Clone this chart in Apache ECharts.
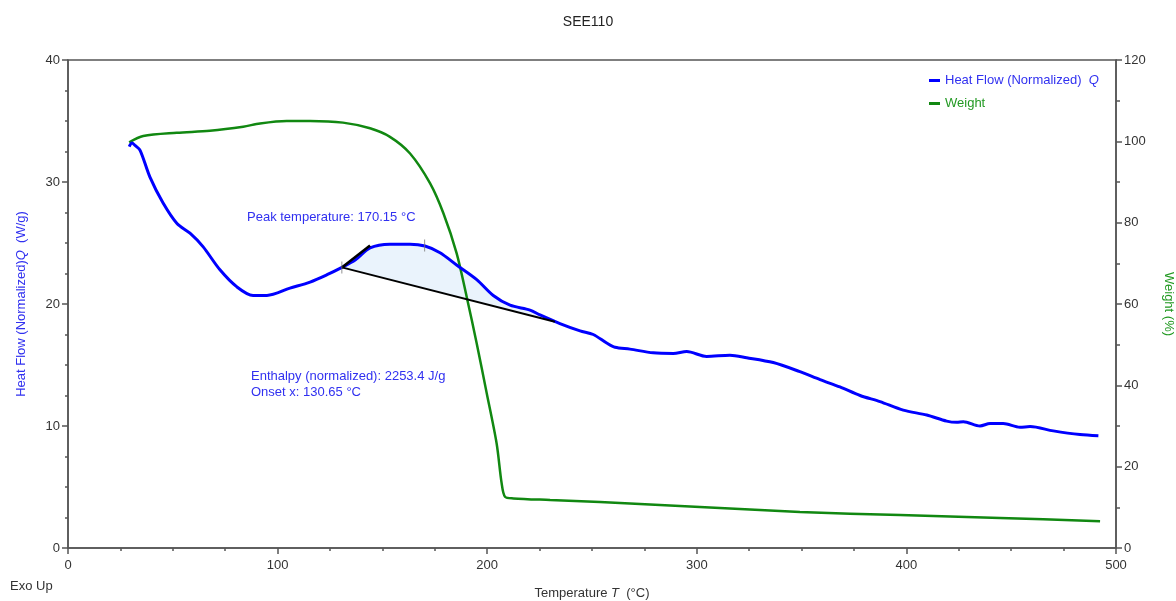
<!DOCTYPE html>
<html>
<head>
<meta charset="utf-8">
<script src="https://cdn.jsdelivr.net/npm/echarts@6/dist/echarts.min.js"></script>
<style>
  html, body { margin: 0; padding: 0; background: #fff; }
  #main { width: 1176px; height: 601px; }
</style>
</head>
<body>
<div id="main"></div>
<script>
// heat flow (W/g) vs temperature (°C)
var hfT = [29.2, 30.5, 32, 34.4, 39.1, 45.3, 52, 58.2, 64.4, 72.5, 80.6, 88.3, 94.9, 105.9, 115.5,
  123.6, 130.7, 137, 144.1, 153.6, 163.2, 170.3, 177.5, 185.4, 195, 202.9, 210.9, 220.4, 225.2, 234.7,
  244.3, 250.6, 257, 261, 268.1, 279.2, 288.8, 295.2, 304.7, 315.8, 323.8, 336.5, 349.2, 358.8, 368.3,
  377.9, 387.4, 398.5, 409.7, 419.2, 424, 427.2, 435.1, 439.9, 446.2, 454.2, 459, 470.1, 482.8, 491.6];
var hfQ = [32.9, 33.2, 33.0, 32.6, 30.4, 28.3, 26.6, 25.8, 24.7, 22.8, 21.4, 20.7, 20.7, 21.3, 21.8,
  22.4, 23.0, 23.6, 24.6, 24.9, 24.9, 24.75, 24.2, 23.2, 22.0, 20.7, 19.9, 19.5, 19.1, 18.4,
  17.8, 17.5, 16.8, 16.45, 16.3, 16.0, 15.95, 16.1, 15.7, 15.8, 15.6, 15.2, 14.45, 13.8, 13.2,
  12.5, 12.0, 11.3, 10.9, 10.4, 10.3, 10.35, 10.0, 10.2, 10.2, 9.9, 9.95, 9.6, 9.3, 9.2];

// weight (%) vs temperature (°C)
var wT = [29.2, 35.9, 51.9, 67.7, 83.6, 91.6, 104.3, 115.5, 131.2, 144.1, 153.6, 163.2, 172.7, 179.1,
  185.4, 190.2, 195, 199.8, 204.5, 206.9, 208.5, 212.5, 230, 253.8, 301.5, 349.2, 397, 444.7, 492.4];
var wW = [99.75, 101.3, 102.1, 102.6, 103.6, 104.4, 105.0, 105.0, 104.6, 103.2, 101.1, 97.0, 89.7, 82.3,
  72.5, 61.8, 50.3, 38.0, 25.7, 15.9, 12.6, 12.2, 11.8, 11.3, 10.1, 8.85, 8.1, 7.4, 6.6];

// peak analysis
var onset = [130.65, 23.0];
var baseEnd = [232.3, 18.55];
var tangentEnd = [144.1, 24.8];
var peak = [170.15, 24.8];

var chartDom = document.getElementById('main');
var myChart = echarts.init(chartDom);
var option;

var FONT = 'Liberation Sans';
var BLUE = '#0000ff';
var GREEN = '#118811';
var TXT_BLUE = '#3030f0';

function zip(a, b) {
  return a.map(function (v, i) { return [v, b[i]]; });
}

// region under the peak, closed by the baseline
var fillPts = [onset];
hfT.forEach(function (t, i) {
  if (t > onset[0] && t < baseEnd[0]) fillPts.push([t, hfQ[i]]);
});
fillPts.push(baseEnd);

var axisLine = { show: true, lineStyle: { color: '#555', width: 1.5 } };
var axisLabel = { color: '#333', fontSize: 13, fontFamily: FONT };

option = {
  animation: false,
  textStyle: { fontFamily: FONT },
  title: {
    text: 'SEE110',
    left: 'center',
    top: 10,
    textStyle: { fontSize: 14, fontWeight: 'normal', color: '#222', fontFamily: FONT }
  },
  grid: {
    left: 68, right: 60, top: 60, bottom: 53,
    outerBoundsMode: 'none',
    containLabel: false,
    show: true, borderColor: '#555', borderWidth: 1.5
  },
  legend: {
    orient: 'vertical',
    left: 924,
    top: 69,
    itemGap: 10,
    itemWidth: 11,
    itemHeight: 3,
    icon: 'rect',
    textStyle: {
      fontSize: 13, fontFamily: FONT,
      rich: { q: { fontStyle: 'italic', fontSize: 13 } }
    },
    formatter: function (name) {
      return name === 'Heat Flow (Normalized)' ? name + '  {q|Q}' : name;
    },
    data: [
      { name: 'Heat Flow (Normalized)', textStyle: { color: TXT_BLUE } },
      { name: 'Weight', textStyle: { color: '#229922' } }
    ]
  },
  xAxis: {
    type: 'value',
    min: 0, max: 500, interval: 100,
    name: 'Temperature {q|T}  (°C)',
    nameLocation: 'middle',
    nameGap: 39,
    nameTextStyle: {
      color: '#333', fontSize: 13, fontFamily: FONT,
      rich: { q: { fontStyle: 'italic', fontSize: 13, color: '#333' } }
    },
    axisLine: axisLine,
    axisTick: { show: true, length: 6, lineStyle: { color: '#555', width: 1.5 } },
    minorTick: { show: true, splitNumber: 4, length: 3, lineStyle: { color: '#555', width: 1.5 } },
    axisLabel: Object.assign({ margin: 11 }, axisLabel),
    splitLine: { show: false }
  },
  yAxis: [
    {
      type: 'value',
      min: 0, max: 40, interval: 10,
      position: 'left',
      name: 'Heat Flow (Normalized){q|Q}  (W/g)',
      nameLocation: 'middle',
      nameGap: 40,
      nameTextStyle: {
        color: TXT_BLUE, fontSize: 13, fontFamily: FONT,
        rich: { q: { fontStyle: 'italic', fontSize: 13, color: TXT_BLUE } }
      },
      axisLine: axisLine,
      axisTick: { show: true, length: 6, lineStyle: { color: '#555', width: 1.5 } },
      minorTick: { show: true, splitNumber: 4, length: 3, lineStyle: { color: '#555', width: 1.5 } },
      axisLabel: Object.assign({ margin: 8 }, axisLabel),
      splitLine: { show: false }
    },
    {
      type: 'value',
      min: 0, max: 120, interval: 20,
      position: 'right',
      name: 'Weight (%)',
      nameLocation: 'middle',
      nameRotate: -90,
      nameGap: 46,
      nameTextStyle: { color: '#229922', fontSize: 13, fontFamily: FONT },
      axisLine: axisLine,
      axisTick: { show: true, length: 6, lineStyle: { color: '#555', width: 1.5 } },
      minorTick: { show: true, splitNumber: 2, length: 4, lineStyle: { color: '#555', width: 1.5 } },
      axisLabel: Object.assign({ margin: 8 }, axisLabel),
      splitLine: { show: false }
    }
  ],
  graphic: [
    { type: 'text', left: 10, top: 580, style: { text: 'Exo Up', fill: '#333', font: '13px "Liberation Sans"' } },
    { type: 'text', left: 247, top: 211, style: { text: 'Peak temperature: 170.15 °C', fill: TXT_BLUE, font: '13px "Liberation Sans"' } },
    { type: 'text', left: 251, top: 370, style: { text: 'Enthalpy (normalized): 2253.4 J/g', fill: TXT_BLUE, font: '13px "Liberation Sans"' } },
    { type: 'text', left: 251, top: 386, style: { text: 'Onset x: 130.65 °C', fill: TXT_BLUE, font: '13px "Liberation Sans"' } }
  ],
  series: [
    {
      type: 'custom',
      name: 'peak area',
      xAxisIndex: 0, yAxisIndex: 0,
      z: 1,
      silent: true,
      data: [onset],
      renderItem: function (params, api) {
        var pts = fillPts.map(function (p) { return api.coord(p); });
        return { type: 'polygon', shape: { points: pts }, style: { fill: '#eaf3fc' } };
      }
    },
    {
      type: 'line',
      name: 'Weight',
      yAxisIndex: 1,
      z: 3,
      data: zip(wT, wW),
      smooth: 0.3,
      showSymbol: false,
      lineStyle: { color: GREEN, width: 2.5 },
      itemStyle: { color: GREEN }
    },
    {
      type: 'line',
      name: 'Heat Flow (Normalized)',
      yAxisIndex: 0,
      z: 4,
      data: zip(hfT, hfQ),
      smooth: 0.3,
      showSymbol: false,
      lineStyle: { color: BLUE, width: 3 },
      itemStyle: { color: BLUE }
    },
    {
      type: 'line',
      name: 'baseline',
      yAxisIndex: 0,
      z: 5,
      data: [onset, baseEnd],
      showSymbol: false,
      lineStyle: { color: '#000', width: 2 },
      silent: true
    },
    {
      type: 'line',
      name: 'tangent',
      yAxisIndex: 0,
      z: 5,
      data: [onset, tangentEnd],
      showSymbol: false,
      lineStyle: { color: '#000', width: 2.5 },
      silent: true
    },
    {
      type: 'scatter',
      name: 'markers',
      yAxisIndex: 0,
      z: 6,
      data: [onset, peak],
      symbol: 'rect',
      symbolSize: [1, 12],
      itemStyle: { color: '#777' },
      silent: true
    }
  ]
};

if (chartDom && myChart) {
  myChart.setOption(option);
} else {
  console.error('Failed to initialize the chart');
}
</script>
</body>
</html>
